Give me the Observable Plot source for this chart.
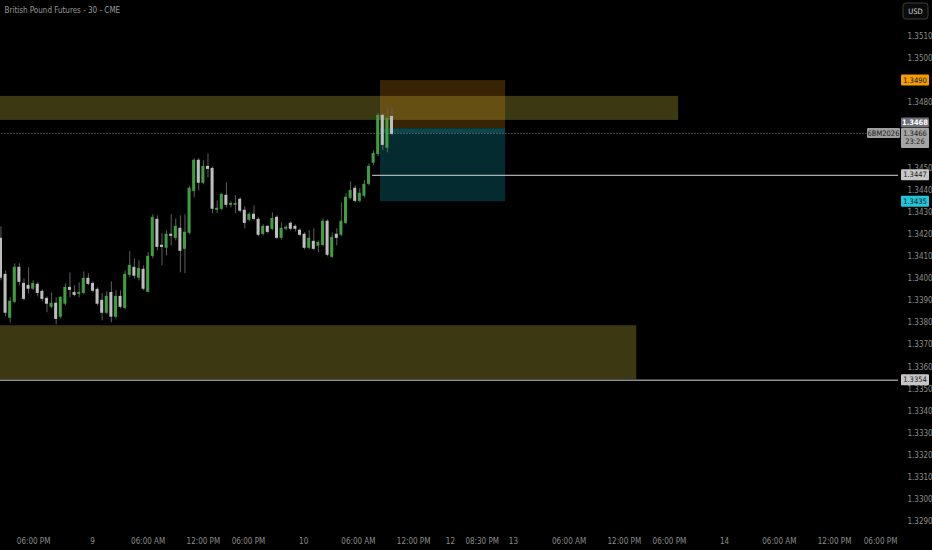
<!DOCTYPE html>
<html><head><meta charset="utf-8">
<script src="https://cdn.jsdelivr.net/npm/d3@7"></script>
<script src="https://cdn.jsdelivr.net/npm/@observablehq/plot@0.6"></script>
<style>
html,body{margin:0;padding:0;background:#000;}
#chart{width:932px;height:550px;}
</style></head><body><div id="chart"></div>
<script>
const title = "British Pound Futures - 30 - CME";

const opens = [
1.34182,1.34018,1.33823,1.33896,1.34050,1.33977,1.33968,1.33955,1.33973,1.33941,
1.33909,1.33873,1.33887,1.33828,1.33887,1.33959,1.33936,1.33932,1.33936,1.34000,
1.33977,1.33950,1.33900,1.33846,1.33936,1.33828,1.33918,1.33868,1.34018,1.34050,
1.34005,1.34041,1.33941,1.34104,1.34268,1.34150,1.34141,1.34200,1.34186,1.34227,
1.34136,1.34209,1.34399,1.34536,1.34436,1.34508,1.34499,1.34313,1.34318,1.34377,
1.34336,1.34336,1.34359,1.34309,1.34268,1.34291,1.34268,1.34204,1.34236,1.34227,
1.34277,1.34186,1.34227,1.34250,1.34236,1.34218,1.34200,1.34141,1.34168,1.34150,
1.34154,1.34259,1.34100,1.34200,1.34200,1.34254,1.34368,1.34409,1.34354,1.34377,
1.34431,1.34527,1.34567,1.34740,1.34595,1.34735];
const highs = [
1.34236,1.34036,1.33914,1.34068,1.34068,1.34000,1.34050,1.33991,1.33982,1.33950,
1.33918,1.33936,1.33914,1.33918,1.33977,1.34027,1.33968,1.33982,1.34032,1.34023,
1.33986,1.33959,1.33932,1.33941,1.33986,1.33946,1.33946,1.34036,1.34123,1.34091,
1.34082,1.34059,1.34118,1.34291,1.34286,1.34204,1.34218,1.34291,1.34272,1.34286,
1.34291,1.34418,1.34545,1.34545,1.34536,1.34567,1.34508,1.34354,1.34386,1.34436,
1.34350,1.34377,1.34368,1.34327,1.34300,1.34331,1.34277,1.34245,1.34241,1.34300,
1.34286,1.34254,1.34241,1.34259,1.34245,1.34227,1.34209,1.34218,1.34227,1.34172,
1.34272,1.34268,1.34209,1.34227,1.34345,1.34386,1.34440,1.34422,1.34409,1.34445,
1.34522,1.34581,1.34749,1.34749,1.34776,1.34776];
const lows = [
1.33991,1.33828,1.33800,1.33887,1.33968,1.33900,1.33932,1.33946,1.33918,1.33896,
1.33846,1.33864,1.33791,1.33818,1.33877,1.33914,1.33918,1.33914,1.33927,1.33968,
1.33936,1.33877,1.33809,1.33837,1.33800,1.33818,1.33864,1.33859,1.34005,1.34000,
1.33991,1.33946,1.33936,1.34091,1.34127,1.34059,1.34104,1.34150,1.34172,1.34027,
1.34023,1.34200,1.34368,1.34399,1.34427,1.34458,1.34295,1.34295,1.34309,1.34322,
1.34322,1.34295,1.34300,1.34227,1.34259,1.34263,1.34191,1.34195,1.34204,1.34218,
1.34177,1.34177,1.34218,1.34218,1.34213,1.34191,1.34132,1.34132,1.34127,1.34118,
1.34145,1.34100,1.34091,1.34150,1.34191,1.34245,1.34359,1.34345,1.34345,1.34368,
1.34422,1.34513,1.34554,1.34581,1.34572,1.34649];
const closes = [
1.34005,1.33846,1.33896,1.34050,1.33986,1.33909,1.33955,1.33977,1.33936,1.33909,
1.33887,1.33887,1.33818,1.33914,1.33959,1.33950,1.33927,1.33936,1.34000,1.33977,
1.33946,1.33887,1.33846,1.33918,1.33828,1.33918,1.33873,1.34018,1.34059,1.34014,
1.34045,1.33955,1.34100,1.34277,1.34145,1.34145,1.34200,1.34195,1.34236,1.34127,
1.34209,1.34409,1.34536,1.34436,1.34508,1.34499,1.34318,1.34318,1.34381,1.34336,
1.34340,1.34340,1.34309,1.34254,1.34291,1.34272,1.34200,1.34236,1.34213,1.34272,
1.34186,1.34227,1.34232,1.34227,1.34227,1.34200,1.34141,1.34182,1.34136,1.34163,
1.34259,1.34109,1.34186,1.34186,1.34259,1.34368,1.34399,1.34354,1.34386,1.34427,
1.34508,1.34567,1.34740,1.34608,1.34726,1.34658];

// time axis (bar-index positions) and labels
const xTickPos = [7.1, 19.9, 32, 44, 53.8, 65.8, 77.7, 89.7, 97.7, 104.6, 111.4, 123.5, 135.5, 145.3, 157.3, 169.2, 181.2, 191.2];
const xTickLabels = ["06:00 PM","9","06:00 AM","12:00 PM","06:00 PM","10","06:00 AM","12:00 PM","12","08:30 PM","13","06:00 AM","12:00 PM","06:00 PM","14","06:00 AM","12:00 PM","06:00 PM"];

// price axis ticks (those fully hidden under the price tags are left out)
const yTicks = [1.3290,1.3300,1.3310,1.3320,1.3330,1.3340,1.3350,1.3360,1.3370,1.3380,1.3390,1.3400,1.3410,1.3420,1.3430,1.3440,1.3450,1.3480,1.3500,1.3510];

// supply / demand zones
const zoneTop = [1.34828, 1.33787];
const zoneBottom = [1.34719, 1.33543];
const zoneEndBar = [147.3, 138.2];

// short position tool
const posStartBar = 82.5, posEndBar = 109.7;
const posEntry = 1.3468, posStop = 1.3490, posTarget = 1.3435;
const lastPrice = 1.3466;
const countdown = "23:26";
const symbol = "6BM2026";

// horizontal levels
const levelPrices = [1.3447, 1.3354];
const levelStartBar = [80.8, -1];

const candles = opens.map((o, i) => ({i, open: o, high: highs[i], low: lows[i], close: closes[i]}));
const zones = zoneTop.map((t, i) => ({top: t, bottom: zoneBottom[i], end: zoneEndBar[i]}));
const levels = levelPrices.map((p, i) => ({price: p, start: levelStartBar[i]}));

const FONT = '"Liberation Sans Narrow", "DejaVu Sans Condensed", "Liberation Sans", sans-serif';
const GREEN = "#3f9f3f", GRAY = "#bdbdbd", WICK = "#5f5f5f", TXT = "#8c8c8c";

const plot = Plot.plot({
  width: 932, height: 550,
  marginLeft: 0, marginRight: 34, marginTop: 0, marginBottom: 20,
  style: {background: "#000", fontFamily: FONT, fontSize: "8px", color: TXT},
  x: {domain: [-0.1, 195.1]},
  y: {domain: [1.328576, 1.352634]},
  marks: [
    Plot.rect(zones, {x1: -5, x2: "end", y1: "bottom", y2: "top", fill: "#c8bd3a", fillOpacity: 0.3, clip: true}),
    Plot.rect([0], {x1: posStartBar, x2: posEndBar, y1: posEntry, y2: posStop, fill: "#ffa010", fillOpacity: 0.22}),
    Plot.rect([0], {x1: posStartBar, x2: posEndBar, y1: posTarget, y2: posEntry, fill: "#0aa8b8", fillOpacity: 0.26}),
    Plot.rect([0], {x1: posStartBar, x2: posEndBar, y1: lastPrice, y2: posEntry, fill: "#0aa8b8", fillOpacity: 0.25}),
    Plot.ruleY([lastPrice], {x1: -5, x2: 200, stroke: "#8a8a8a", strokeDasharray: "1,2", clip: true}),
    Plot.ruleY(levels, {y: "price", x1: "start", x2: 200, stroke: "#d8d8d8", strokeWidth: 1, clip: true}),
    Plot.ruleX(candles, {x: "i", y1: "low", y2: "high", stroke: WICK}),
    Plot.rect(candles, {x1: d => d.i - 0.33, x2: d => d.i + 0.33, y1: "open", y2: "close",
      insetTop: -0.5, insetBottom: -0.5,
      fill: d => d.close >= d.open ? GREEN : GRAY}),
    Plot.text([title], {frameAnchor: "top-left", dx: 4, dy: 7, fill: "#9a9a9a", textAnchor: "start", lineAnchor: "top"}),
    Plot.axisY({anchor: "right", ticks: yTicks, tickFormat: d => d.toFixed(4), tickSize: 0, tickPadding: 9, fill: TXT, label: null}),
    Plot.axisX({anchor: "bottom", ticks: xTickPos, tickFormat: d => xTickLabels[xTickPos.indexOf(d)], tickSize: 0, tickPadding: 8, fill: TXT, label: null})
  ]
});
document.getElementById("chart").appendChild(plot);

// price-axis tags, positioned with the plot's own y scale
const y = plot.scale("y");
const svg = d3.select(plot);
const g = svg.append("g").attr("font-family", FONT).attr("font-size", 7.5);
function box(x, yTop, w, h, fill, lines, color, bold) {
  g.append("rect").attr("x", x).attr("y", yTop).attr("width", w).attr("height", h).attr("fill", fill).attr("rx", 1);
  lines.forEach(([txt, yc]) => {
    g.append("text").attr("x", x + w / 2).attr("y", yc).attr("dy", "0.35em")
      .attr("text-anchor", "middle").attr("fill", color).attr("font-weight", bold ? "bold" : null).text(txt);
  });
}
// USD
g.append("rect").attr("x", 903).attr("y", 3).attr("width", 25).attr("height", 16).attr("rx", 3)
  .attr("fill", "#0b0b0b").attr("stroke", "#3c3c3c");
g.append("text").attr("x", 915.5).attr("y", 11).attr("dy", "0.35em").attr("text-anchor", "middle")
  .attr("fill", "#d6d6d6").text("USD");

const yc = p => y.apply(p);
box(901, yc(posStop) - 5.5, 28, 11, "#f59c00", [[posStop.toFixed(4), yc(posStop)]], "#141414");
box(901, yc(posEntry) - 11, 28, 10, "#6e7077", [[posEntry.toFixed(4), yc(posEntry) - 6]], "#ffffff", true);
box(901, yc(lastPrice) - 5, 28, 20, "#a4a4a4", [[lastPrice.toFixed(4), yc(lastPrice)], [countdown, yc(lastPrice) + 8.5]], "#1a1a1a");
box(867, yc(lastPrice) - 5, 33, 10, "#9e9e9e", [[symbol, yc(lastPrice)]], "#1a1a1a");
box(901, yc(levelPrices[0]) - 5.5, 28, 11, "#c6c6c6", [[levelPrices[0].toFixed(4), yc(levelPrices[0])]], "#1a1a1a");
box(901, yc(posTarget) - 5.5, 28, 11, "#1fc6dc", [[posTarget.toFixed(4), yc(posTarget)]], "#101010");
box(901, yc(levelPrices[1]) - 5.5, 28, 11, "#c6c6c6", [[levelPrices[1].toFixed(4), yc(levelPrices[1])]], "#1a1a1a");
</script></body></html>
